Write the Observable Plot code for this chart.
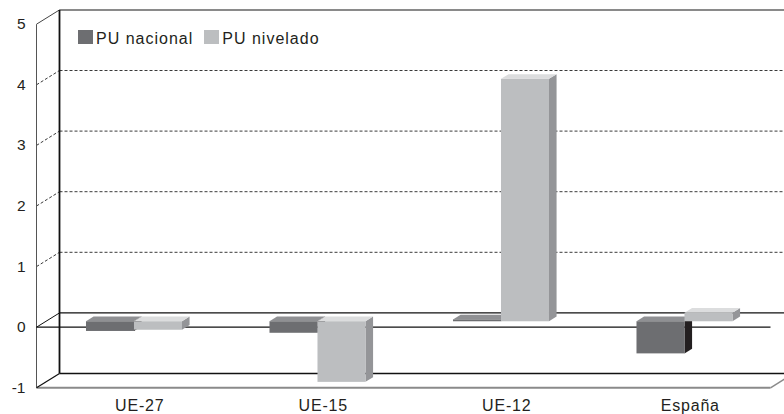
<!DOCTYPE html>
<html><head><meta charset="utf-8">
<script src="https://cdn.jsdelivr.net/npm/d3@7"></script>
<script src="https://cdn.jsdelivr.net/npm/@observablehq/plot@0.6"></script>
<style>
html,body{margin:0;padding:0;background:#fff;overflow:hidden;}
#wrap{position:relative;width:784px;height:414px;font-family:"Liberation Sans",Arial,sans-serif;color:#231f20;}
#legend{position:absolute;left:78px;top:29.8px;white-space:nowrap;font-size:16px;line-height:16px;letter-spacing:1px;}
#legend .sw{display:inline-block;width:15px;height:14px;margin-right:3px;vertical-align:baseline;}
#legend .item2{margin-left:11px;}
#chart g[aria-label="text"] text{letter-spacing:0.8px;}
#chart g[aria-label="y-axis tick label"]{font-size:15.5px;}
</style></head>
<body><div id="wrap"><div id="chart"></div><div id="legend"></div></div>
<script>
// ---- data ----
const categories = ["UE-27", "UE-15", "UE-12", "España"];
const seriesNames = ["PU nacional", "PU nivelado"];
const nacional = [-0.16, -0.19, 0.03, -0.53];
const nivelado = [-0.14, -1.0, 4.0, 0.14];
const yTicks = [-1, 0, 1, 2, 3, 4, 5];
const gridValues = [1, 2, 3, 4];

// ---- layout ----
const W = 784, H = 414, ML = 36, MR = 14, MT = 23.7, MB = 26.7;
const KX = (W - ML - MR) / categories.length; // px per category unit
const KY = (H - MT - MB) / (yTicks[yTicks.length - 1] - yTicks[0]); // px per y unit
const DX = 23 / KX, DY = 14.3 / KY; // full depth offset in data units
const Z0 = 0.38, Z1 = 0.71;          // bar depth (front/back)
const BW = 48 / KX;                  // bar width
const SHIFT = -2.5 / KX;             // small horizontal shift of bar pairs
const XEND = categories.length + 20 / KX;
const YMIN = yTicks[0], YMAX = yTicks[yTicks.length - 1];

const styles = [
  {front: "#6d6e71", top: "#8f9093", side: "#231f20"},
  {front: "#bcbec0", top: "#dcddde", side: "#949598"}
];
const seriesValues = [nacional, nivelado];

function bars(k) {
  return categories.map((c, i) => {
    const v = seriesValues[k][i];
    const x1 = i + 0.5 + SHIFT - (k === 0 ? BW : 0);
    return {id: c, x1, x2: x1 + BW, lo: Math.min(0, v), hi: Math.max(0, v)};
  });
}
function sidePts(b) {
  return b.flatMap(d => [Z0, Z1].map(z => ({id: d.id, x: d.x2 + DX * z, ylo: d.lo + DY * z, yhi: d.hi + DY * z})));
}
function topPts(b) {
  return b.flatMap(d => [Z0, Z1].map(z => ({id: d.id, y: d.hi + DY * z, xa: d.x1 + DX * z, xb: d.x2 + DX * z})));
}
function barMarks(k) {
  const b = bars(k), s = styles[k];
  return [
    Plot.area(sidePts(b), {x1: "x", y1: "ylo", y2: "yhi", z: "id", fill: s.side}),
    Plot.area(topPts(b), {y1: "y", x1: "xa", x2: "xb", z: "id", fill: s.top}),
    Plot.rect(b, {x1: d => d.x1 + DX * Z0, x2: d => d.x2 + DX * Z0, y1: d => d.lo + DY * Z0, y2: d => d.hi + DY * Z0, fill: s.front})
  ];
}

const chart = Plot.plot({
  width: W, height: H,
  marginLeft: ML, marginRight: MR, marginTop: MT, marginBottom: MB,
  x: {type: "linear", domain: [0, categories.length], axis: null},
  y: {type: "linear", domain: [YMIN, YMAX], axis: null},
  style: {fontFamily: "'Liberation Sans', Arial, sans-serif", color: "#231f20", background: "#fff", overflow: "hidden"},
  marks: [
    // gridlines on back wall and left wall
    Plot.link(gridValues, {x1: () => DX, x2: () => XEND, y1: d => d + DY, y2: d => d + DY, stroke: "#3a3a3a", strokeWidth: 1, strokeDasharray: "3,2"}),
    Plot.link(gridValues, {x1: () => 0, x2: () => DX, y1: d => d, y2: d => d + DY, stroke: "#3a3a3a", strokeWidth: 1, strokeDasharray: "3,2"}),
    // top edge of back wall
    Plot.link([YMAX], {x1: () => DX, x2: () => XEND, y1: d => d + DY, y2: d => d + DY, stroke: "#8a8a8a", strokeWidth: 2}),
    Plot.link([YMAX], {x1: () => 0, x2: () => DX, y1: d => d, y2: d => d + DY, stroke: "#444", strokeWidth: 1}),
    // front left edge
    Plot.link([0], {x1: d => d, x2: d => d, y1: () => YMIN, y2: () => YMAX, stroke: "#555", strokeWidth: 1}),
    // back wall left edge
    Plot.link([DX], {x1: d => d, x2: d => d, y1: () => YMIN + DY, y2: () => YMAX + DY, stroke: "#111", strokeWidth: 1.8}),
    // zero plane
    Plot.link([0], {x1: () => DX, x2: () => XEND, y1: d => d + DY, y2: d => d + DY, stroke: "#111", strokeWidth: 1.2}),
    Plot.link([0], {x1: () => 0, x2: () => categories.length, y1: d => d, y2: d => d, stroke: "#111", strokeWidth: 1.2}),
    Plot.link([0], {x1: () => 0, x2: () => DX, y1: d => d, y2: d => d + DY, stroke: "#111", strokeWidth: 1}),
    // floor
    Plot.link([YMIN], {x1: () => DX, x2: () => XEND, y1: d => d + DY, y2: d => d + DY, stroke: "#111", strokeWidth: 1.5}),
    Plot.link([YMIN], {x1: () => 0, x2: () => categories.length, y1: d => d, y2: d => d, stroke: "#8a8a8a", strokeWidth: 2}),
    Plot.link([YMIN], {x1: () => 0, x2: () => DX, y1: d => d, y2: d => d + DY, stroke: "#111", strokeWidth: 1.2}),
    Plot.link([YMIN], {x1: () => categories.length, x2: () => categories.length + DX, y1: d => d, y2: d => d + DY, stroke: "#8a8a8a", strokeWidth: 1.5}),
    // bars
    ...barMarks(0),
    ...barMarks(1),
    // axes
    Plot.axisY({ticks: yTicks, tickFormat: d => String(d), tickSize: 0, tickPadding: 11, fontSize: 15.5, label: null}),
    Plot.text(categories, {x: (d, i) => i + 0.5 + DX * 0.5, y: () => YMIN, dy: 18, fontSize: 16, fill: "#231f20"})
  ]
});
document.getElementById("chart").appendChild(chart);

// legend
const legend = document.getElementById("legend");
seriesNames.forEach((name, k) => {
  const item = document.createElement("span");
  if (k > 0) item.className = "item2";
  const sw = document.createElement("span");
  sw.className = "sw";
  sw.style.background = styles[k].front;
  item.appendChild(sw);
  item.appendChild(document.createTextNode(name));
  legend.appendChild(item);
});
</script>
</body></html>
